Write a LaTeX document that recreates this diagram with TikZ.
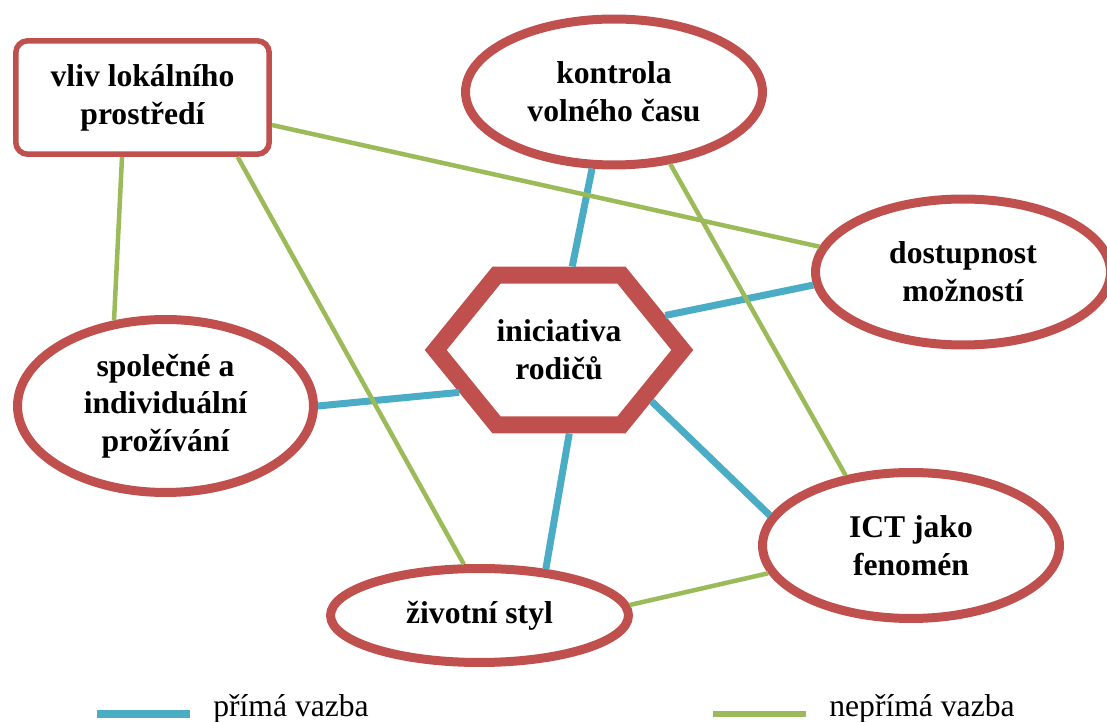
\documentclass[tikz,border=0pt]{standalone}
\usepackage{fontspec}
\setmainfont{Liberation Serif}
\usetikzlibrary{shapes.geometric, shapes.symbols}
\definecolor{rimred}{HTML}{C0504D}
\definecolor{directblue}{HTML}{4BACC6}
\definecolor{indirectgreen}{HTML}{9BBB59}

\begin{document}
\begin{tikzpicture}[x=0.02cm, y=-0.02cm,
        nodetext/.style={font=\bfseries\fontsize{18}{21.5}\selectfont, align=center, text=black},
        bubble/.style={ellipse, draw=rimred, line width=0.18cm, fill=white, inner sep=0pt, nodetext},
        box/.style={rectangle, rounded corners=0.24cm, draw=rimred, line width=0.11cm, fill=white, inner sep=0pt, nodetext},
        hexa/.style={signal, signal to=east and west, signal pointer angle=101.8, draw=rimred, line width=0.34cm, line join=miter, fill=white, inner sep=0pt, minimum width=4.92cm, minimum height=3cm, nodetext},
        direct/.style={draw=directblue, line width=0.14cm},
        indirect/.style={draw=indirectgreen, line width=0.09cm},
        legendtext/.style={font=\fontsize{18}{21.5}\selectfont, inner sep=0pt}]
    \useasboundingbox (0,0) rectangle (1107,722);

    % pojmy
    \node[box, minimum width=5.07cm, minimum height=2.27cm] (vliv) at (142.5,97.5) {vliv lokálního\\prostředí};
    \node[bubble, minimum width=5.94cm, minimum height=2.92cm] (kontrola) at (614,92) {kontrola\\volného času};
    \node[bubble, minimum width=5.9cm, minimum height=2.92cm] (dostupnost) at (963,272) {dostupnost\\možností};
    \node[hexa] (iniciativa) at (559,350) {iniciativa\\rodičů};
    \node[bubble, minimum width=5.92cm, minimum height=3.46cm] (spolecne) at (165.5,406) {společné a\\individuální\\prožívání};
    \node[bubble, minimum width=5.94cm, minimum height=2.92cm] (ict) at (911,545.5) {ICT jako\\fenomén};
    \node[bubble, minimum width=5.96cm, minimum height=1.88cm] (styl) at (479.5,615.5) {životní styl};

    % přímé vazby
    \draw[direct] (kontrola.254.9) -- (iniciativa.81);
    \draw[direct] (dostupnost.185.7) -- (iniciativa.18);
    \draw[direct] (spolecne.0.4) -- (iniciativa.203);
    \draw[direct] (iniciativa.277.5) -- (styl.35.9);
    \draw[direct] (iniciativa.331.7) -- (ict.168.6);

    % nepřímé vazby
    \draw[indirect] (vliv.251.3) -- (spolecne.121.4);
    \draw[indirect] (vliv.328.1) -- (styl.107.8);
    \draw[indirect] (vliv.348.9) -- (dostupnost.170.6);
    \draw[indirect] (kontrola.308.2) -- (ict.133.5);
    \draw[indirect] (styl.4) -- (ict.191.6);

    % legenda
    \coordinate (directA) at (97,714);
    \coordinate (directB) at (190,714);
    \coordinate (indirectA) at (713,714);
    \coordinate (indirectB) at (806,714);
    \draw[direct, line width=0.16cm] (directA) -- (directB);
    \draw[indirect, line width=0.11cm] (indirectA) -- (indirectB);
    \node[legendtext, anchor=base west] (directlabel) at (213,717) {přímá vazba};
    \node[legendtext, anchor=base west] (indirectlabel) at (829,717) {nepřímá vazba};
\end{tikzpicture}
\end{document}
